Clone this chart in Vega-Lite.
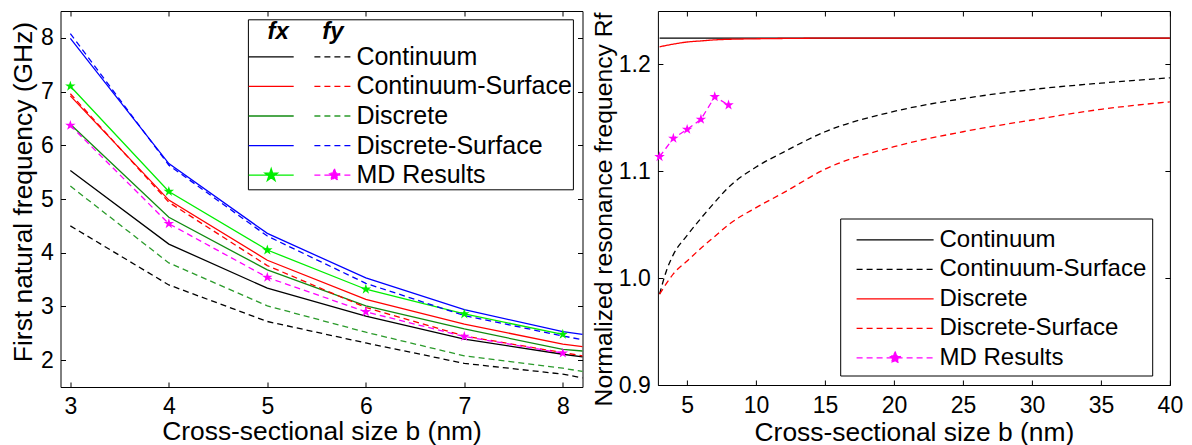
{
  "$schema": "https://vega.github.io/schema/vega-lite/v6.json",
  "padding": {"left": 9.5, "top": 10, "right": 5, "bottom": 0},
  "bounds": "flush",
  "spacing": 75.4,
  "resolve": {
    "scale": {"color": "independent", "stroke": "independent", "strokeDash": "independent"},
    "legend": {"color": "independent", "stroke": "independent", "strokeDash": "independent"}
  },
  "config": {
    "font": "Liberation Sans",
    "view": {"stroke": "#000", "strokeWidth": 1},
    "axis": {"domain": false, "grid": false, "labelFlush": false, "tickColor": "#000", "tickSize": -5, "tickWidth": 1, "labelColor": "#000", "labelFontSize": 23, "titleColor": "#000", "titleFontSize": 26.4, "titleFontWeight": "normal", "labelFont": "Liberation Sans", "titleFont": "Liberation Sans"},
    "legend": {"labelFont": "Liberation Sans", "titleFont": "Liberation Sans", "labelColor": "#000", "titleColor": "#000"}
  },
  "datasets": {
    "left": [
      {"b": 3, "f": 5.53, "model": "Continuum", "comp": "fx"},
      {"b": 4, "f": 4.16, "model": "Continuum", "comp": "fx"},
      {"b": 5, "f": 3.34, "model": "Continuum", "comp": "fx"},
      {"b": 6, "f": 2.82, "model": "Continuum", "comp": "fx"},
      {"b": 7, "f": 2.39, "model": "Continuum", "comp": "fx"},
      {"b": 8, "f": 2.11, "model": "Continuum", "comp": "fx"},
      {"b": 8.2, "f": 2.06, "model": "Continuum", "comp": "fx"},
      {"b": 3, "f": 4.50, "model": "Continuum", "comp": "fy"},
      {"b": 4, "f": 3.40, "model": "Continuum", "comp": "fy"},
      {"b": 5, "f": 2.72, "model": "Continuum", "comp": "fy"},
      {"b": 6, "f": 2.32, "model": "Continuum", "comp": "fy"},
      {"b": 7, "f": 1.94, "model": "Continuum", "comp": "fy"},
      {"b": 8, "f": 1.74, "model": "Continuum", "comp": "fy"},
      {"b": 8.2, "f": 1.67, "model": "Continuum", "comp": "fy"},
      {"b": 3, "f": 6.92, "model": "Continuum-Surface", "comp": "fx"},
      {"b": 4, "f": 4.98, "model": "Continuum-Surface", "comp": "fx"},
      {"b": 5, "f": 3.86, "model": "Continuum-Surface", "comp": "fx"},
      {"b": 6, "f": 3.13, "model": "Continuum-Surface", "comp": "fx"},
      {"b": 7, "f": 2.67, "model": "Continuum-Surface", "comp": "fx"},
      {"b": 8, "f": 2.30, "model": "Continuum-Surface", "comp": "fx"},
      {"b": 8.2, "f": 2.25, "model": "Continuum-Surface", "comp": "fx"},
      {"b": 3, "f": 6.96, "model": "Continuum-Surface", "comp": "fy"},
      {"b": 4, "f": 4.94, "model": "Continuum-Surface", "comp": "fy"},
      {"b": 5, "f": 3.76, "model": "Continuum-Surface", "comp": "fy"},
      {"b": 6, "f": 2.98, "model": "Continuum-Surface", "comp": "fy"},
      {"b": 7, "f": 2.45, "model": "Continuum-Surface", "comp": "fy"},
      {"b": 8, "f": 2.14, "model": "Continuum-Surface", "comp": "fy"},
      {"b": 8.2, "f": 2.08, "model": "Continuum-Surface", "comp": "fy"},
      {"b": 3, "f": 6.39, "model": "Discrete", "comp": "fx"},
      {"b": 4, "f": 4.66, "model": "Discrete", "comp": "fx"},
      {"b": 5, "f": 3.68, "model": "Discrete", "comp": "fx"},
      {"b": 6, "f": 3.01, "model": "Discrete", "comp": "fx"},
      {"b": 7, "f": 2.58, "model": "Discrete", "comp": "fx"},
      {"b": 8, "f": 2.20, "model": "Discrete", "comp": "fx"},
      {"b": 8.2, "f": 2.17, "model": "Discrete", "comp": "fx"},
      {"b": 3, "f": 5.24, "model": "Discrete", "comp": "fy"},
      {"b": 4, "f": 3.81, "model": "Discrete", "comp": "fy"},
      {"b": 5, "f": 3.01, "model": "Discrete", "comp": "fy"},
      {"b": 6, "f": 2.52, "model": "Discrete", "comp": "fy"},
      {"b": 7, "f": 2.08, "model": "Discrete", "comp": "fy"},
      {"b": 8, "f": 1.85, "model": "Discrete", "comp": "fy"},
      {"b": 8.2, "f": 1.79, "model": "Discrete", "comp": "fy"},
      {"b": 3, "f": 7.99, "model": "Discrete-Surface", "comp": "fx"},
      {"b": 4, "f": 5.66, "model": "Discrete-Surface", "comp": "fx"},
      {"b": 5, "f": 4.36, "model": "Discrete-Surface", "comp": "fx"},
      {"b": 6, "f": 3.53, "model": "Discrete-Surface", "comp": "fx"},
      {"b": 7, "f": 2.94, "model": "Discrete-Surface", "comp": "fx"},
      {"b": 8, "f": 2.53, "model": "Discrete-Surface", "comp": "fx"},
      {"b": 8.2, "f": 2.48, "model": "Discrete-Surface", "comp": "fx"},
      {"b": 3, "f": 8.08, "model": "Discrete-Surface", "comp": "fy"},
      {"b": 4, "f": 5.63, "model": "Discrete-Surface", "comp": "fy"},
      {"b": 5, "f": 4.31, "model": "Discrete-Surface", "comp": "fy"},
      {"b": 6, "f": 3.43, "model": "Discrete-Surface", "comp": "fy"},
      {"b": 7, "f": 2.83, "model": "Discrete-Surface", "comp": "fy"},
      {"b": 8, "f": 2.45, "model": "Discrete-Surface", "comp": "fy"},
      {"b": 8.2, "f": 2.38, "model": "Discrete-Surface", "comp": "fy"},
      {"b": 3, "f": 7.10, "model": "MD Results", "comp": "fx"},
      {"b": 4, "f": 5.14, "model": "MD Results", "comp": "fx"},
      {"b": 5, "f": 4.05, "model": "MD Results", "comp": "fx"},
      {"b": 6, "f": 3.32, "model": "MD Results", "comp": "fx"},
      {"b": 7, "f": 2.86, "model": "MD Results", "comp": "fx"},
      {"b": 8, "f": 2.48, "model": "MD Results", "comp": "fx"},
      {"b": 3, "f": 6.37, "model": "MD Results", "comp": "fy"},
      {"b": 4, "f": 4.54, "model": "MD Results", "comp": "fy"},
      {"b": 5, "f": 3.54, "model": "MD Results", "comp": "fy"},
      {"b": 6, "f": 2.90, "model": "MD Results", "comp": "fy"},
      {"b": 7, "f": 2.44, "model": "MD Results", "comp": "fy"},
      {"b": 8, "f": 2.13, "model": "MD Results", "comp": "fy"}
    ],
    "right": [
      {"b": 3, "r": 1.2247, "model": "Continuum"},
      {"b": 40, "r": 1.2247, "model": "Continuum"},
      {"b": 3, "r": 0.985, "model": "Continuum-Surface"},
      {"b": 3.5, "r": 1.007, "model": "Continuum-Surface"},
      {"b": 4, "r": 1.022, "model": "Continuum-Surface"},
      {"b": 5, "r": 1.040, "model": "Continuum-Surface"},
      {"b": 6, "r": 1.056, "model": "Continuum-Surface"},
      {"b": 7, "r": 1.071, "model": "Continuum-Surface"},
      {"b": 8, "r": 1.085, "model": "Continuum-Surface"},
      {"b": 10, "r": 1.104, "model": "Continuum-Surface"},
      {"b": 12, "r": 1.118, "model": "Continuum-Surface"},
      {"b": 15, "r": 1.137, "model": "Continuum-Surface"},
      {"b": 20, "r": 1.156, "model": "Continuum-Surface"},
      {"b": 25, "r": 1.168, "model": "Continuum-Surface"},
      {"b": 30, "r": 1.1765, "model": "Continuum-Surface"},
      {"b": 35, "r": 1.1825, "model": "Continuum-Surface"},
      {"b": 40, "r": 1.1875, "model": "Continuum-Surface"},
      {"b": 3, "r": 1.2165, "model": "Discrete"},
      {"b": 4, "r": 1.219, "model": "Discrete"},
      {"b": 5, "r": 1.221, "model": "Discrete"},
      {"b": 6, "r": 1.222, "model": "Discrete"},
      {"b": 7, "r": 1.223, "model": "Discrete"},
      {"b": 8, "r": 1.2235, "model": "Discrete"},
      {"b": 10, "r": 1.224, "model": "Discrete"},
      {"b": 12, "r": 1.2243, "model": "Discrete"},
      {"b": 15, "r": 1.2246, "model": "Discrete"},
      {"b": 20, "r": 1.2247, "model": "Discrete"},
      {"b": 40, "r": 1.2247, "model": "Discrete"},
      {"b": 3, "r": 0.985, "model": "Discrete-Surface"},
      {"b": 3.5, "r": 0.995, "model": "Discrete-Surface"},
      {"b": 4, "r": 1.004, "model": "Discrete-Surface"},
      {"b": 5, "r": 1.016, "model": "Discrete-Surface"},
      {"b": 6, "r": 1.028, "model": "Discrete-Surface"},
      {"b": 7, "r": 1.039, "model": "Discrete-Surface"},
      {"b": 8, "r": 1.050, "model": "Discrete-Surface"},
      {"b": 10, "r": 1.066, "model": "Discrete-Surface"},
      {"b": 12, "r": 1.080, "model": "Discrete-Surface"},
      {"b": 15, "r": 1.102, "model": "Discrete-Surface"},
      {"b": 20, "r": 1.123, "model": "Discrete-Surface"},
      {"b": 25, "r": 1.137, "model": "Discrete-Surface"},
      {"b": 30, "r": 1.148, "model": "Discrete-Surface"},
      {"b": 35, "r": 1.158, "model": "Discrete-Surface"},
      {"b": 40, "r": 1.165, "model": "Discrete-Surface"},
      {"b": 3, "r": 1.1136, "model": "MD Results"},
      {"b": 4, "r": 1.1308, "model": "MD Results"},
      {"b": 5, "r": 1.1392, "model": "MD Results"},
      {"b": 6, "r": 1.1486, "model": "MD Results"},
      {"b": 7, "r": 1.1697, "model": "MD Results"},
      {"b": 8, "r": 1.162, "model": "MD Results"}
    ]
  },
  "hconcat": [
    {
      "width": 522,
      "height": 376,
      "data": {"name": "left"},
      "layer": [
        {
          "transform": [{"filter": "datum.comp === 'fx'"}],
          "mark": {"type": "line", "strokeWidth": 1.3},
          "encoding": {
            "x": {"field": "b", "type": "quantitative", "scale": {"domain": [2.9, 8.2], "nice": false, "zero": false}, "axis": {"orient": "bottom", "values": [3, 4, 5, 6, 7, 8], "title": "Cross-sectional size b (nm)", "labelPadding": 13, "titleY": 52.8, "titleBaseline": "alphabetic"}},
            "y": {"field": "f", "type": "quantitative", "scale": {"domain": [1.5, 8.5], "nice": false, "zero": false}, "axis": {"orient": "left", "values": [2, 3, 4, 5, 6, 7, 8], "title": "First natural frequency (GHz)", "labelPadding": 12.3, "titleX": -23.3, "titleY": 180.5}},
            "color": {
              "field": "model", "type": "nominal",
              "scale": {"domain": ["Continuum", "Continuum-Surface", "Discrete", "Discrete-Surface", "MD Results"], "range": ["#000000", "#ff0000", "#108a10", "#0000ff", "#00ee00"]},
              "legend": {
                "title": "fx", "orient": "none", "legendX": 187.4, "legendY": 8.3, "direction": "vertical",
                "symbolType": "M-2.045,0H2.045", "symbolSize": 484, "symbolStrokeWidth": 1.3, "symbolOffset": 9.8, "padding": 1,
                "labelFontSize": 25, "labelOffset": 72.3, "labelOpacity": 0, "labelLimit": 216,
                "titleFontSize": 24, "titleFontStyle": "italic", "titleFontWeight": "bold", "titlePadding": 0,
                "rowPadding": 3.6, "strokeColor": "#000", "fillColor": "#fff",
                "encode": {
                  "title": {"update": {"dx": {"value": 18.5}}},
                  "symbols": {
                    "update": {
                      "shape": {"signal": "datum.value === 'MD Results' ? 'M-2.045,0H2.045M0,-0.59L0.1325,-0.1823L0.5611,-0.1823L0.2143,0.0696L0.3468,0.4773L0,0.2254L-0.3468,0.4773L-0.2143,0.0696L-0.5611,-0.1823L-0.1325,-0.1823Z' : 'M-2.045,0H2.045'"},
                      "fill": {"signal": "datum.value === 'MD Results' ? '#00ee00' : 'transparent'"}
                    }
                  }
                }
              }
            }
          }
        },
        {
          "transform": [{"filter": "datum.comp === 'fy'"}],
          "mark": {"type": "line", "strokeWidth": 1.3, "strokeDash": [6, 4]},
          "encoding": {
            "x": {"field": "b", "type": "quantitative", "axis": {"orient": "top", "values": [3, 4, 5, 6, 7, 8], "labels": false, "title": null}},
            "y": {"field": "f", "type": "quantitative", "axis": {"orient": "right", "values": [2, 3, 4, 5, 6, 7, 8], "labels": false, "title": null}},
            "stroke": {
              "field": "model", "type": "nominal",
              "scale": {"range": ["#000000", "#ff0000", "#2a9a2a", "#0000ff", "#ff00ff"]},
              "legend": {
                "title": "fy", "orient": "none", "legendX": 248.7, "legendY": 8.3, "direction": "vertical",
                "symbolType": "M-1.818,0H1.818", "symbolSize": 484, "symbolStrokeWidth": 1.3, "symbolDash": [6, 4], "symbolOffset": 11.7, "padding": 1,
                "labelFontSize": 25, "labelOffset": 9.5, "labelLimit": 300,
                "titleFontSize": 24, "titleFontStyle": "italic", "titleFontWeight": "bold", "titlePadding": 0,
                "rowPadding": 3.6,
                "encode": {
                  "title": {"update": {"dx": {"value": 12}}},
                  "symbols": {
                    "update": {
                      "shape": {"signal": "datum.value === 'MD Results' ? 'M-1.818,0H1.818M0,-0.59L0.1325,-0.1823L0.5611,-0.1823L0.2143,0.0696L0.3468,0.4773L0,0.2254L-0.3468,0.4773L-0.2143,0.0696L-0.5611,-0.1823L-0.1325,-0.1823Z' : 'M-1.818,0H1.818'"},
                      "fill": {"signal": "datum.value === 'MD Results' ? '#ff00ff' : 'transparent'"}
                    }
                  }
                }
              }
            }
          }
        },
        {
          "transform": [{"filter": "datum.model === 'MD Results' && datum.comp === 'fx'"}],
          "mark": {"type": "point", "shape": "M0,-1L0.2245,-0.309L0.9511,-0.309L0.3633,0.118L0.5878,0.809L0,0.382L-0.5878,0.809L-0.3633,0.118L-0.9511,-0.309L-0.2245,-0.309Z", "filled": true, "size": 121, "color": "#00ee00", "opacity": 1},
          "encoding": {
            "x": {"field": "b", "type": "quantitative", "axis": null},
            "y": {"field": "f", "type": "quantitative", "axis": null}
          }
        },
        {
          "transform": [{"filter": "datum.model === 'MD Results' && datum.comp === 'fy'"}],
          "mark": {"type": "point", "shape": "M0,-1L0.2245,-0.309L0.9511,-0.309L0.3633,0.118L0.5878,0.809L0,0.382L-0.5878,0.809L-0.3633,0.118L-0.9511,-0.309L-0.2245,-0.309Z", "filled": true, "size": 121, "color": "#ff00ff", "opacity": 1},
          "encoding": {
            "x": {"field": "b", "type": "quantitative", "axis": null},
            "y": {"field": "f", "type": "quantitative", "axis": null}
          }
        }
      ]
    },
    {
      "width": 512,
      "height": 374,
      "data": {"name": "right"},
      "layer": [
        {
          "transform": [{"filter": "datum.model !== 'MD Results'"}],
          "mark": {"type": "line", "strokeWidth": 1.3, "interpolate": "monotone"},
          "encoding": {
            "x": {"field": "b", "type": "quantitative", "scale": {"domain": [2.88, 40], "nice": false, "zero": false}, "axis": {"orient": "bottom", "values": [5, 10, 15, 20, 25, 30, 35, 40], "title": "Cross-sectional size b (nm)", "labelPadding": 14.3, "titleY": 55.2, "titleBaseline": "alphabetic"}},
            "y": {"field": "r", "type": "quantitative", "scale": {"domain": [0.9, 1.25], "nice": false, "zero": false}, "axis": {"orient": "left", "values": [0.9, 1.0, 1.1, 1.2], "format": ".1f", "title": "Normalized resonance frequency Rf", "titleFontSize": 24.7, "labelPadding": 12.7, "titleX": -41.7, "titleY": 198}},
            "color": {
              "field": "model", "type": "nominal",
              "scale": {"domain": ["Continuum", "Continuum-Surface", "Discrete", "Discrete-Surface", "MD Results"], "range": ["#000000", "#000000", "#ff0000", "#ff0000", "#ff00ff"]},
              "legend": {
                "title": null, "orient": "none", "legendX": 182.3, "legendY": 207.5, "direction": "vertical",
                "symbolType": "M-2.55,0H2.55", "symbolSize": 912, "symbolStrokeWidth": 1.3, "symbolOffset": 33.5, "padding": 5.4,
                "labelFontSize": 24, "labelOffset": 28.4, "labelLimit": 300, "rowPadding": 1.5,
                "strokeColor": "#000", "fillColor": "#fff",
                "encode": {
                  "symbols": {
                    "update": {
                      "shape": {"signal": "datum.value === 'MD Results' ? 'M-2.55,0H2.55M0,-0.43L0.0965,-0.1329L0.409,-0.1329L0.1562,0.0507L0.2528,0.3479L0,0.1643L-0.2528,0.3479L-0.1562,0.0507L-0.409,-0.1329L-0.0965,-0.1329Z' : 'M-2.55,0H2.55'"},
                      "fill": {"signal": "datum.value === 'MD Results' ? '#ff00ff' : 'transparent'"}
                    }
                  }
                }
              }
            },
            "strokeDash": {
              "field": "model", "type": "nominal",
              "scale": {"domain": ["Continuum", "Continuum-Surface", "Discrete", "Discrete-Surface", "MD Results"], "range": [[1, 0], [6, 4], [1, 0], [6, 4], [6, 4]]},
              "legend": {
                "title": null, "orient": "none", "legendX": 182.3, "legendY": 207.5, "direction": "vertical",
                "symbolType": "M-2.55,0H2.55", "symbolSize": 912, "symbolStrokeWidth": 1.3, "symbolOffset": 33.5, "padding": 5.4,
                "labelFontSize": 24, "labelOffset": 28.4, "labelLimit": 300, "rowPadding": 1.5,
                "strokeColor": "#000", "fillColor": "#fff",
                "encode": {
                  "symbols": {
                    "update": {
                      "shape": {"signal": "datum.value === 'MD Results' ? 'M-2.55,0H2.55M0,-0.43L0.0965,-0.1329L0.409,-0.1329L0.1562,0.0507L0.2528,0.3479L0,0.1643L-0.2528,0.3479L-0.1562,0.0507L-0.409,-0.1329L-0.0965,-0.1329Z' : 'M-2.55,0H2.55'"},
                      "fill": {"signal": "datum.value === 'MD Results' ? '#ff00ff' : 'transparent'"}
                    }
                  }
                }
              }
            }
          }
        },
        {
          "transform": [{"filter": "datum.model === 'MD Results'"}],
          "mark": {"type": "line", "strokeWidth": 1.3, "color": "#ff00ff", "strokeDash": [6, 4]},
          "encoding": {
            "x": {"field": "b", "type": "quantitative", "axis": {"orient": "top", "values": [5, 10, 15, 20, 25, 30, 35, 40], "labels": false, "title": null}},
            "y": {"field": "r", "type": "quantitative", "axis": {"orient": "right", "values": [0.9, 1.0, 1.1, 1.2], "labels": false, "title": null}}
          }
        },
        {
          "transform": [{"filter": "datum.model === 'MD Results'"}],
          "mark": {"type": "point", "shape": "M0,-1L0.2245,-0.309L0.9511,-0.309L0.3633,0.118L0.5878,0.809L0,0.382L-0.5878,0.809L-0.3633,0.118L-0.9511,-0.309L-0.2245,-0.309Z", "filled": true, "size": 121, "color": "#ff00ff", "opacity": 1},
          "encoding": {
            "x": {"field": "b", "type": "quantitative", "axis": null},
            "y": {"field": "r", "type": "quantitative", "axis": null}
          }
        }
      ]
    }
  ]
}
